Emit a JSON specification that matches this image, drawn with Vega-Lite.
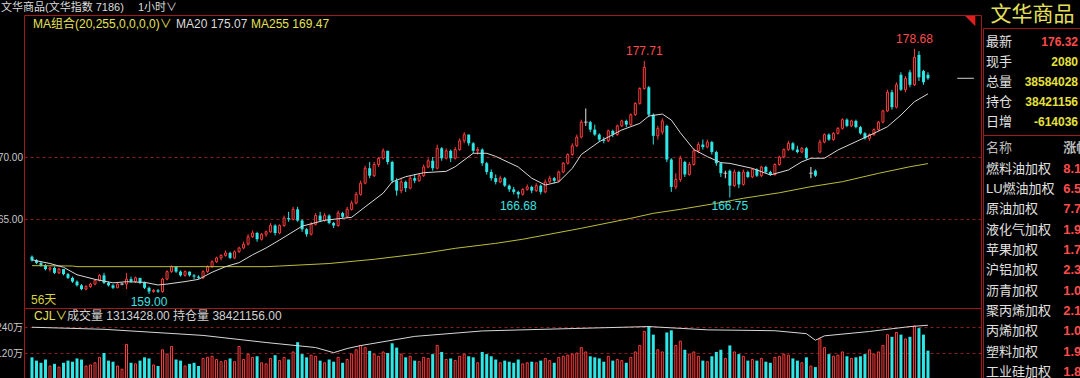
{
  "$schema": "https://vega.github.io/schema/vega-lite/v6.json",
  "background": "#000000",
  "padding": {"left": -9, "top": 0, "right": 0, "bottom": 0},
  "autosize": {"type": "pad"},
  "spacing": 0,
  "config": {
    "font": "Liberation Sans, Noto Sans CJK SC, sans-serif",
    "view": {"stroke": "#a01818", "strokeWidth": 1},
    "axis": {"domain": false, "ticks": false, "tickSize": 0, "labelPadding": 1.5, "labelFontSize": 10, "labelColor": "#c8c8c8", "gridColor": "#8a1c1c", "gridDash": [3, 3], "gridWidth": 1}
  },
  "datasets": {
    "k": [
      {"i":0,"o":162.0,"h":162.1,"l":161.6,"c":161.7,"v":100},
      {"i":1,"o":161.7,"h":161.8,"l":161.4,"c":161.5,"v":85},
      {"i":2,"o":161.5,"h":161.6,"l":161.2,"c":161.3,"v":75},
      {"i":3,"o":161.3,"h":161.4,"l":160.9,"c":161.0,"v":90},
      {"i":4,"o":161.0,"h":161.2,"l":160.8,"c":161.1,"v":60},
      {"i":5,"o":161.1,"h":161.2,"l":160.6,"c":160.7,"v":70},
      {"i":6,"o":160.7,"h":161.1,"l":160.6,"c":161.0,"v":55},
      {"i":7,"o":161.0,"h":161.0,"l":160.5,"c":160.6,"v":75},
      {"i":8,"o":160.6,"h":160.7,"l":160.2,"c":160.3,"v":85},
      {"i":9,"o":160.3,"h":160.4,"l":159.9,"c":160.0,"v":80},
      {"i":10,"o":160.0,"h":160.1,"l":159.6,"c":159.7,"v":95},
      {"i":11,"o":159.7,"h":159.8,"l":159.3,"c":159.4,"v":90},
      {"i":12,"o":159.4,"h":159.7,"l":159.3,"c":159.6,"v":60},
      {"i":13,"o":159.6,"h":159.9,"l":159.5,"c":159.8,"v":65},
      {"i":14,"o":159.8,"h":160.2,"l":159.7,"c":160.1,"v":75},
      {"i":15,"o":160.1,"h":160.6,"l":160.0,"c":160.5,"v":100},
      {"i":16,"o":160.5,"h":160.7,"l":159.8,"c":159.9,"v":120},
      {"i":17,"o":159.9,"h":160.0,"l":159.6,"c":159.7,"v":85},
      {"i":18,"o":159.7,"h":159.8,"l":159.4,"c":159.5,"v":80},
      {"i":19,"o":159.5,"h":159.9,"l":159.5,"c":159.8,"v":60},
      {"i":20,"o":159.8,"h":159.9,"l":159.7,"c":159.8,"v":45},
      {"i":21,"o":159.8,"h":160.7,"l":159.4,"c":160.2,"v":160},
      {"i":22,"o":160.2,"h":160.4,"l":159.9,"c":160.0,"v":75},
      {"i":23,"o":160.0,"h":160.4,"l":159.9,"c":160.3,"v":70},
      {"i":24,"o":160.3,"h":160.3,"l":159.8,"c":159.9,"v":85},
      {"i":25,"o":159.9,"h":160.0,"l":159.4,"c":159.5,"v":100},
      {"i":26,"o":159.5,"h":159.6,"l":159.0,"c":159.2,"v":95},
      {"i":27,"o":159.2,"h":159.4,"l":159.1,"c":159.3,"v":65},
      {"i":28,"o":159.3,"h":159.4,"l":159.1,"c":159.2,"v":60},
      {"i":29,"o":159.2,"h":160.3,"l":159.1,"c":160.2,"v":135},
      {"i":30,"o":160.2,"h":160.9,"l":160.1,"c":160.8,"v":115},
      {"i":31,"o":160.8,"h":161.3,"l":160.7,"c":161.2,"v":150},
      {"i":32,"o":161.2,"h":161.2,"l":160.7,"c":160.8,"v":90},
      {"i":33,"o":160.8,"h":160.9,"l":160.4,"c":160.5,"v":85},
      {"i":34,"o":160.5,"h":160.9,"l":160.4,"c":160.8,"v":60},
      {"i":35,"o":160.8,"h":160.8,"l":160.4,"c":160.5,"v":70},
      {"i":36,"o":160.5,"h":160.6,"l":160.2,"c":160.4,"v":75},
      {"i":37,"o":160.4,"h":160.5,"l":160.2,"c":160.3,"v":60},
      {"i":38,"o":160.3,"h":160.9,"l":160.2,"c":160.8,"v":95},
      {"i":39,"o":160.8,"h":161.3,"l":160.7,"c":161.2,"v":100},
      {"i":40,"o":161.2,"h":161.7,"l":161.1,"c":161.6,"v":105},
      {"i":41,"o":161.6,"h":162.0,"l":161.5,"c":161.9,"v":90},
      {"i":42,"o":161.9,"h":162.2,"l":161.7,"c":162.1,"v":80},
      {"i":43,"o":162.1,"h":162.5,"l":162.0,"c":162.3,"v":85},
      {"i":44,"o":162.3,"h":162.4,"l":161.8,"c":161.9,"v":95},
      {"i":45,"o":161.9,"h":162.5,"l":161.8,"c":162.4,"v":80},
      {"i":46,"o":162.4,"h":162.8,"l":162.3,"c":162.7,"v":150},
      {"i":47,"o":162.7,"h":163.2,"l":162.6,"c":163.0,"v":90},
      {"i":48,"o":163.0,"h":163.8,"l":162.9,"c":163.6,"v":115},
      {"i":49,"o":163.6,"h":164.1,"l":163.5,"c":163.9,"v":100},
      {"i":50,"o":163.9,"h":164.0,"l":163.2,"c":163.4,"v":105},
      {"i":51,"o":163.4,"h":163.9,"l":163.3,"c":163.8,"v":75},
      {"i":52,"o":163.8,"h":164.1,"l":163.6,"c":164.0,"v":70},
      {"i":53,"o":164.0,"h":164.7,"l":163.9,"c":164.5,"v":95},
      {"i":54,"o":164.5,"h":164.6,"l":163.7,"c":163.9,"v":110},
      {"i":55,"o":163.9,"h":164.6,"l":163.8,"c":164.5,"v":85},
      {"i":56,"o":164.5,"h":165.3,"l":164.4,"c":165.1,"v":100},
      {"i":57,"o":165.1,"h":165.6,"l":164.8,"c":165.0,"v":90},
      {"i":58,"o":165.0,"h":166.0,"l":164.9,"c":165.8,"v":125},
      {"i":59,"o":165.8,"h":166.0,"l":164.8,"c":164.9,"v":170},
      {"i":60,"o":164.9,"h":165.0,"l":164.0,"c":164.2,"v":115},
      {"i":61,"o":164.2,"h":164.3,"l":163.6,"c":163.8,"v":100},
      {"i":62,"o":163.8,"h":164.8,"l":163.7,"c":164.6,"v":110},
      {"i":63,"o":164.6,"h":165.5,"l":164.5,"c":165.3,"v":105},
      {"i":64,"o":165.3,"h":165.6,"l":164.8,"c":164.9,"v":85},
      {"i":65,"o":164.9,"h":165.5,"l":164.8,"c":165.3,"v":75},
      {"i":66,"o":165.3,"h":165.4,"l":164.6,"c":164.7,"v":90},
      {"i":67,"o":164.7,"h":164.8,"l":164.3,"c":164.5,"v":80},
      {"i":68,"o":164.5,"h":165.7,"l":164.4,"c":165.5,"v":100},
      {"i":69,"o":165.5,"h":165.6,"l":165.1,"c":165.2,"v":75},
      {"i":70,"o":165.2,"h":166.0,"l":165.1,"c":165.8,"v":90},
      {"i":71,"o":165.8,"h":166.5,"l":165.7,"c":166.3,"v":115},
      {"i":72,"o":166.3,"h":167.2,"l":166.2,"c":167.0,"v":135},
      {"i":73,"o":167.0,"h":168.1,"l":166.9,"c":167.9,"v":155},
      {"i":74,"o":167.9,"h":169.3,"l":167.8,"c":169.1,"v":145},
      {"i":75,"o":169.1,"h":169.6,"l":168.3,"c":168.5,"v":130},
      {"i":76,"o":168.5,"h":169.6,"l":168.4,"c":169.4,"v":115},
      {"i":77,"o":169.4,"h":170.0,"l":169.2,"c":169.9,"v":105},
      {"i":78,"o":169.9,"h":170.7,"l":169.8,"c":170.5,"v":125},
      {"i":79,"o":170.5,"h":170.5,"l":169.4,"c":169.6,"v":120},
      {"i":80,"o":169.6,"h":169.7,"l":167.9,"c":168.1,"v":165},
      {"i":81,"o":168.1,"h":168.3,"l":166.9,"c":167.3,"v":145},
      {"i":82,"o":167.3,"h":168.3,"l":167.1,"c":168.0,"v":115},
      {"i":83,"o":168.0,"h":168.1,"l":167.2,"c":167.5,"v":100},
      {"i":84,"o":167.5,"h":168.5,"l":167.4,"c":168.3,"v":105},
      {"i":85,"o":168.3,"h":168.6,"l":167.9,"c":168.1,"v":85},
      {"i":86,"o":168.1,"h":168.7,"l":168.0,"c":168.5,"v":80},
      {"i":87,"o":168.5,"h":169.4,"l":168.4,"c":169.2,"v":100},
      {"i":88,"o":169.2,"h":169.9,"l":169.1,"c":169.7,"v":95},
      {"i":89,"o":169.7,"h":170.0,"l":168.9,"c":169.1,"v":115},
      {"i":90,"o":169.1,"h":171.0,"l":169.0,"c":170.7,"v":155},
      {"i":91,"o":170.7,"h":170.8,"l":169.7,"c":169.9,"v":125},
      {"i":92,"o":169.9,"h":170.7,"l":169.8,"c":170.5,"v":90},
      {"i":93,"o":170.5,"h":170.6,"l":169.6,"c":169.9,"v":95},
      {"i":94,"o":169.9,"h":170.8,"l":169.8,"c":170.6,"v":85},
      {"i":95,"o":170.6,"h":171.5,"l":170.5,"c":171.3,"v":105},
      {"i":96,"o":171.3,"h":172.0,"l":171.1,"c":171.8,"v":115},
      {"i":97,"o":171.8,"h":171.8,"l":170.9,"c":171.1,"v":105},
      {"i":98,"o":171.1,"h":171.2,"l":170.3,"c":170.5,"v":100},
      {"i":99,"o":170.5,"h":170.8,"l":170.2,"c":170.6,"v":75},
      {"i":100,"o":170.6,"h":170.7,"l":169.3,"c":169.5,"v":125},
      {"i":101,"o":169.5,"h":169.6,"l":168.6,"c":168.8,"v":115},
      {"i":102,"o":168.8,"h":169.0,"l":168.1,"c":168.3,"v":105},
      {"i":103,"o":168.3,"h":168.6,"l":167.8,"c":168.0,"v":90},
      {"i":104,"o":168.0,"h":168.5,"l":167.9,"c":168.3,"v":75},
      {"i":105,"o":168.3,"h":168.4,"l":167.6,"c":167.7,"v":85},
      {"i":106,"o":167.7,"h":167.8,"l":167.2,"c":167.4,"v":80},
      {"i":107,"o":167.4,"h":167.6,"l":167.0,"c":167.2,"v":75},
      {"i":108,"o":167.2,"h":167.3,"l":166.68,"c":167.0,"v":90},
      {"i":109,"o":167.0,"h":167.5,"l":166.9,"c":167.4,"v":70},
      {"i":110,"o":167.4,"h":167.8,"l":167.3,"c":167.6,"v":75},
      {"i":111,"o":167.6,"h":167.7,"l":167.1,"c":167.3,"v":80},
      {"i":112,"o":167.3,"h":167.9,"l":167.2,"c":167.7,"v":75},
      {"i":113,"o":167.7,"h":167.8,"l":167.0,"c":167.2,"v":85},
      {"i":114,"o":167.2,"h":168.2,"l":167.1,"c":168.0,"v":95},
      {"i":115,"o":168.0,"h":168.5,"l":167.9,"c":168.3,"v":85},
      {"i":116,"o":168.3,"h":168.4,"l":167.9,"c":168.1,"v":75},
      {"i":117,"o":168.1,"h":168.9,"l":168.0,"c":168.8,"v":100},
      {"i":118,"o":168.8,"h":169.6,"l":168.7,"c":169.5,"v":105},
      {"i":119,"o":169.5,"h":170.3,"l":169.4,"c":170.2,"v":110},
      {"i":120,"o":170.2,"h":171.1,"l":170.1,"c":170.9,"v":115},
      {"i":121,"o":170.9,"h":171.8,"l":170.8,"c":171.6,"v":120},
      {"i":122,"o":171.6,"h":173.0,"l":171.5,"c":172.8,"v":145},
      {"i":123,"o":172.8,"h":173.9,"l":172.5,"c":172.8,"v":125},
      {"i":124,"o":172.8,"h":172.9,"l":172.0,"c":172.2,"v":105},
      {"i":125,"o":172.2,"h":172.6,"l":171.7,"c":171.8,"v":100},
      {"i":126,"o":171.8,"h":171.9,"l":171.2,"c":171.4,"v":95},
      {"i":127,"o":171.4,"h":171.6,"l":171.1,"c":171.3,"v":80},
      {"i":128,"o":171.3,"h":172.2,"l":171.2,"c":172.1,"v":105},
      {"i":129,"o":172.1,"h":172.2,"l":171.6,"c":171.8,"v":85},
      {"i":130,"o":171.8,"h":172.6,"l":171.7,"c":172.5,"v":90},
      {"i":131,"o":172.5,"h":173.0,"l":172.4,"c":172.9,"v":85},
      {"i":132,"o":172.9,"h":173.0,"l":172.4,"c":172.6,"v":75},
      {"i":133,"o":172.6,"h":173.5,"l":172.5,"c":173.4,"v":100},
      {"i":134,"o":173.4,"h":174.4,"l":173.3,"c":174.3,"v":125},
      {"i":135,"o":174.3,"h":175.6,"l":174.2,"c":175.5,"v":155},
      {"i":136,"o":175.5,"h":177.71,"l":175.4,"c":177.2,"v":220},
      {"i":137,"o":175.6,"h":175.7,"l":173.2,"c":173.4,"v":245},
      {"i":138,"o":173.4,"h":173.5,"l":171.0,"c":171.7,"v":205},
      {"i":139,"o":171.7,"h":172.5,"l":171.4,"c":172.3,"v":135},
      {"i":140,"o":172.0,"h":173.1,"l":171.8,"c":172.9,"v":125},
      {"i":141,"o":172.5,"h":172.6,"l":169.6,"c":169.8,"v":215},
      {"i":142,"o":169.8,"h":169.9,"l":167.2,"c":167.6,"v":225},
      {"i":143,"o":167.6,"h":168.7,"l":167.4,"c":168.2,"v":155},
      {"i":144,"o":168.2,"h":170.1,"l":168.0,"c":169.9,"v":175},
      {"i":145,"o":169.6,"h":169.7,"l":168.4,"c":168.6,"v":135},
      {"i":146,"o":168.6,"h":169.6,"l":168.5,"c":169.4,"v":115},
      {"i":147,"o":169.4,"h":170.7,"l":169.3,"c":170.5,"v":125},
      {"i":148,"o":170.5,"h":171.2,"l":170.3,"c":171.0,"v":105},
      {"i":149,"o":171.0,"h":171.4,"l":170.6,"c":170.8,"v":85},
      {"i":150,"o":170.8,"h":171.4,"l":170.7,"c":171.2,"v":80},
      {"i":151,"o":171.2,"h":171.3,"l":170.2,"c":170.4,"v":105},
      {"i":152,"o":170.4,"h":170.5,"l":169.3,"c":169.5,"v":125},
      {"i":153,"o":169.5,"h":169.6,"l":168.4,"c":168.7,"v":135},
      {"i":154,"o":168.7,"h":168.9,"l":168.3,"c":168.7,"v":95},
      {"i":155,"o":168.9,"h":169.0,"l":166.75,"c":167.7,"v":155},
      {"i":156,"o":167.7,"h":169.0,"l":167.6,"c":168.8,"v":125},
      {"i":157,"o":168.8,"h":168.9,"l":167.5,"c":167.8,"v":115},
      {"i":158,"o":167.8,"h":169.0,"l":167.7,"c":168.8,"v":105},
      {"i":159,"o":168.8,"h":168.9,"l":168.3,"c":168.4,"v":85},
      {"i":160,"o":168.4,"h":169.1,"l":168.3,"c":169.0,"v":90},
      {"i":161,"o":169.0,"h":169.1,"l":168.4,"c":168.5,"v":85},
      {"i":162,"o":168.5,"h":169.3,"l":168.4,"c":169.2,"v":95},
      {"i":163,"o":169.2,"h":169.3,"l":168.7,"c":168.8,"v":80},
      {"i":164,"o":168.8,"h":168.9,"l":168.5,"c":168.6,"v":75},
      {"i":165,"o":168.6,"h":169.5,"l":168.5,"c":169.4,"v":100},
      {"i":166,"o":169.4,"h":170.1,"l":169.3,"c":170.0,"v":105},
      {"i":167,"o":170.0,"h":170.7,"l":169.9,"c":170.6,"v":115},
      {"i":168,"o":170.6,"h":171.3,"l":170.5,"c":171.1,"v":110},
      {"i":169,"o":171.1,"h":171.2,"l":170.5,"c":170.6,"v":95},
      {"i":170,"o":170.6,"h":170.9,"l":170.3,"c":170.4,"v":85},
      {"i":171,"o":170.4,"h":170.8,"l":170.3,"c":170.7,"v":75},
      {"i":172,"o":170.7,"h":170.8,"l":169.8,"c":169.9,"v":100},
      {"i":173,"o":168.7,"h":169.2,"l":168.3,"c":168.7,"v":60},
      {"i":174,"o":168.9,"h":169.0,"l":168.4,"c":168.5,"v":55},
      {"i":175,"o":170.4,"h":171.4,"l":170.3,"c":171.2,"v":185},
      {"i":176,"o":171.2,"h":171.9,"l":171.1,"c":171.8,"v":145},
      {"i":177,"o":171.8,"h":171.9,"l":171.3,"c":171.4,"v":115},
      {"i":178,"o":171.4,"h":172.0,"l":171.3,"c":171.9,"v":105},
      {"i":179,"o":171.9,"h":172.4,"l":171.8,"c":172.3,"v":110},
      {"i":180,"o":172.3,"h":173.1,"l":172.2,"c":173.0,"v":125},
      {"i":181,"o":173.0,"h":173.1,"l":172.4,"c":172.5,"v":105},
      {"i":182,"o":172.5,"h":173.0,"l":172.4,"c":172.9,"v":95},
      {"i":183,"o":172.9,"h":173.0,"l":172.3,"c":172.4,"v":100},
      {"i":184,"o":172.4,"h":172.5,"l":171.8,"c":171.9,"v":105},
      {"i":185,"o":171.9,"h":172.0,"l":171.4,"c":171.5,"v":115},
      {"i":186,"o":171.5,"h":171.9,"l":171.3,"c":171.8,"v":135},
      {"i":187,"o":171.8,"h":172.3,"l":171.7,"c":172.2,"v":115},
      {"i":188,"o":172.2,"h":172.9,"l":172.1,"c":172.8,"v":125},
      {"i":189,"o":172.8,"h":173.8,"l":172.7,"c":173.7,"v":155},
      {"i":190,"o":173.7,"h":175.4,"l":173.6,"c":175.2,"v":205},
      {"i":191,"o":175.2,"h":175.4,"l":173.8,"c":174.0,"v":195},
      {"i":192,"o":174.0,"h":176.0,"l":173.9,"c":175.8,"v":215},
      {"i":193,"o":176.6,"h":176.8,"l":175.3,"c":175.4,"v":205},
      {"i":194,"o":175.4,"h":176.5,"l":175.2,"c":176.3,"v":185},
      {"i":195,"o":176.8,"h":177.0,"l":175.6,"c":175.8,"v":195},
      {"i":196,"o":175.8,"h":178.68,"l":175.7,"c":178.0,"v":245},
      {"i":197,"o":178.2,"h":178.5,"l":176.1,"c":176.4,"v":235},
      {"i":198,"o":176.9,"h":177.0,"l":175.8,"c":176.0,"v":205},
      {"i":199,"o":176.6,"h":176.8,"l":176.2,"c":176.32,"v":131}
    ],
    "ma20": [
      {"i":0,"v":161.75},{"i":4,"v":161.45},{"i":7,"v":161.15},{"i":10,"v":160.55},{"i":14,"v":160.18},{"i":18,"v":159.9},{"i":21,"v":159.99},{"i":25,"v":159.94},{"i":28,"v":159.73},{"i":30,"v":159.8},{"i":34,"v":160.0},{"i":37,"v":160.18},{"i":40,"v":160.75},{"i":43,"v":161.2},{"i":46,"v":161.52},{"i":49,"v":162.15},{"i":52,"v":162.7},{"i":55,"v":163.34},{"i":60,"v":164.45},{"i":65,"v":164.92},{"i":71,"v":165.16},{"i":74,"v":166.0},{"i":78,"v":167.1},{"i":80,"v":168.0},{"i":83,"v":168.42},{"i":87,"v":168.74},{"i":92,"v":168.85},{"i":94,"v":169.22},{"i":98,"v":170.3},{"i":101,"v":170.3},{"i":103,"v":170.05},{"i":108,"v":169.2},{"i":111,"v":168.3},{"i":114,"v":167.75},{"i":117,"v":168.0},{"i":120,"v":169.09},{"i":122,"v":170.2},{"i":126,"v":171.23},{"i":131,"v":172.17},{"i":135,"v":172.7},{"i":137,"v":173.29},{"i":140,"v":173.45},{"i":142,"v":172.97},{"i":144,"v":171.95},{"i":147,"v":170.6},{"i":150,"v":170.03},{"i":153,"v":169.55},{"i":155,"v":169.49},{"i":160,"v":169.09},{"i":164,"v":168.56},{"i":168,"v":168.96},{"i":171,"v":169.62},{"i":173,"v":169.9},{"i":176,"v":169.9},{"i":179,"v":170.56},{"i":183,"v":171.23},{"i":187,"v":171.9},{"i":190,"v":172.43},{"i":193,"v":173.37},{"i":196,"v":174.44},{"i":199,"v":175.07}
    ],
    "ma255": [
      {"i":0,"v":161.28},{"i":9,"v":161.25},{"i":10,"v":161.2},{"i":52,"v":161.2},{"i":55,"v":161.25},{"i":66,"v":161.45},{"i":76,"v":161.79},{"i":87,"v":162.27},{"i":94,"v":162.67},{"i":103,"v":163.07},{"i":109,"v":163.4},{"i":122,"v":164.28},{"i":133,"v":165.08},{"i":138,"v":165.48},{"i":144,"v":165.8},{"i":152,"v":166.28},{"i":158,"v":166.69},{"i":166,"v":167.13},{"i":173,"v":167.62},{"i":180,"v":168.02},{"i":188,"v":168.69},{"i":195,"v":169.22},{"i":199,"v":169.47}
    ],
    "oi": [
      {"i":0,"v":3824},{"i":16,"v":3805},{"i":38,"v":3749},{"i":52,"v":3684},{"i":63,"v":3638},{"i":67,"v":3591},{"i":70,"v":3629},{"i":73,"v":3656},{"i":85,"v":3740},{"i":100,"v":3790},{"i":120,"v":3812},{"i":137,"v":3830},{"i":150,"v":3800},{"i":165,"v":3792},{"i":172,"v":3765},{"i":174,"v":3705},{"i":176,"v":3745},{"i":186,"v":3785},{"i":195,"v":3830},{"i":199,"v":3842}
    ],
    "ext": [
      {"i":136,"p":177.71,"kind":"high"},
      {"i":196,"p":178.68,"kind":"high"},
      {"i":26,"p":159.00,"kind":"low"},
      {"i":108,"p":166.68,"kind":"low"},
      {"i":155,"p":166.75,"kind":"low"}
    ],
    "quote": [
      {"k":"最新","v":"176.32"},
      {"k":"现手","v":"2080"},
      {"k":"总量","v":"38584028"},
      {"k":"持仓","v":"38421156"},
      {"k":"日增","v":"-614036"}
    ],
    "list": [
      {"name":"名称","chg":"涨幅"},
      {"name":"燃料油加权","chg":"8.12"},
      {"name":"LU燃油加权","chg":"6.57"},
      {"name":"原油加权","chg":"7.73"},
      {"name":"液化气加权","chg":"1.99"},
      {"name":"苹果加权","chg":"1.70"},
      {"name":"沪铝加权","chg":"2.31"},
      {"name":"沥青加权","chg":"1.00"},
      {"name":"聚丙烯加权","chg":"2.18"},
      {"name":"丙烯加权","chg":"1.04"},
      {"name":"塑料加权","chg":"1.90"},
      {"name":"工业硅加权","chg":"1.88"}
    ]
  },
  "hconcat": [
    {
      "spacing": 0,
      "bounds": "flush",
      "vconcat": [
        {
          "width": 957,
          "height": 15,
          "view": {"stroke": null},
          "data": {"values": [{"t": "文华商品(文华指数 7186)\u3000 1小时∨"}]},
          "mark": {"type": "text", "align": "left", "baseline": "middle", "dx": -23, "fontSize": 11, "color": "#dcdcdc"},
          "encoding": {"x": {"datum": 0, "type": "quantitative", "scale": {"domain": [0, 1]}, "axis": null}, "text": {"field": "t"}}
        },
        {
          "width": 957,
          "height": 293,
          "layer": [
            {
              "data": {"name": "k"},
              "mark": {"type": "rule", "strokeWidth": 1},
              "encoding": {
                "x": {"field": "i", "type": "quantitative", "scale": {"domain": [-0.66, 209.67], "nice": false, "zero": false}, "axis": null},
                "y": {"field": "l", "type": "quantitative", "scale": {"domain": [157.88, 181.4], "nice": false, "zero": false}, "axis": {"values": [165, 170], "format": ".2f", "grid": true, "title": null}},
                "y2": {"field": "h"},
                "color": {"condition": [{"test": "datum.c == datum.o", "value": "#e6e6e6"}, {"test": "datum.c > datum.o", "value": "#ff3c3c"}], "value": "#2ee6e6"}
              }
            },
            {
              "data": {"name": "k"},
              "transform": [{"filter": "datum.c < datum.o"}],
              "mark": {"type": "bar", "width": 3, "color": "#2ee6e6"},
              "encoding": {"x": {"field": "i", "type": "quantitative", "axis": null}, "y": {"field": "o", "type": "quantitative", "axis": {"values": [165, 170], "format": ".2f", "grid": true, "title": null}}, "y2": {"field": "c"}}
            },
            {
              "data": {"name": "k"},
              "transform": [{"filter": "datum.c > datum.o"}],
              "mark": {"type": "bar", "width": 2, "fill": "#000000", "stroke": "#ff3c3c", "strokeWidth": 1},
              "encoding": {"x": {"field": "i", "type": "quantitative", "axis": null}, "y": {"field": "o", "type": "quantitative", "axis": {"values": [165, 170], "format": ".2f", "grid": true, "title": null}}, "y2": {"field": "c"}}
            },
            {
              "data": {"name": "k"},
              "transform": [{"filter": "datum.c == datum.o"}],
              "mark": {"type": "tick", "orient": "horizontal", "size": 4, "thickness": 1, "color": "#e6e6e6"},
              "encoding": {"x": {"field": "i", "type": "quantitative", "axis": null}, "y": {"field": "o", "type": "quantitative", "axis": {"values": [165, 170], "format": ".2f", "grid": true, "title": null}}}
            },
            {
              "data": {"name": "ma255"},
              "mark": {"type": "line", "color": "#bdbd3a", "strokeWidth": 1},
              "encoding": {"x": {"field": "i", "type": "quantitative", "axis": null}, "y": {"field": "v", "type": "quantitative", "axis": {"values": [165, 170], "format": ".2f", "grid": true, "title": null}}}
            },
            {
              "data": {"name": "ma20"},
              "mark": {"type": "line", "color": "#d8d8d8", "strokeWidth": 1},
              "encoding": {"x": {"field": "i", "type": "quantitative", "axis": null}, "y": {"field": "v", "type": "quantitative", "axis": {"values": [165, 170], "format": ".2f", "grid": true, "title": null}}}
            },
            {
              "data": {"name": "ext"},
              "transform": [{"filter": "datum.kind == 'high'"}],
              "mark": {"type": "text", "baseline": "bottom", "dy": -3, "fontSize": 12, "color": "#ff4a4a"},
              "encoding": {"x": {"field": "i", "type": "quantitative", "axis": null}, "y": {"field": "p", "type": "quantitative", "axis": {"values": [165, 170], "format": ".2f", "grid": true, "title": null}}, "text": {"field": "p", "type": "quantitative", "format": ".2f"}}
            },
            {
              "data": {"name": "ext"},
              "transform": [{"filter": "datum.kind == 'low'"}],
              "mark": {"type": "text", "baseline": "top", "dy": 3, "fontSize": 12, "color": "#3ee0e0"},
              "encoding": {"x": {"field": "i", "type": "quantitative", "axis": null}, "y": {"field": "p", "type": "quantitative", "axis": {"values": [165, 170], "format": ".2f", "grid": true, "title": null}}, "text": {"field": "p", "type": "quantitative", "format": ".2f"}}
            },
            {
              "data": {"values": [{"t": "MA组合(20,255,0,0,0,0)∨"}]},
              "mark": {"type": "text", "align": "left", "baseline": "middle", "dx": 4, "dy": 9, "fontSize": 12, "color": "#e6e05a"},
              "encoding": {"x": {"datum": -0.66, "type": "quantitative", "axis": null}, "y": {"datum": 181.4, "type": "quantitative", "axis": {"values": [165, 170], "format": ".2f", "grid": true, "title": null}}, "text": {"field": "t"}}
            },
            {
              "data": {"values": [{"t": "MA20 175.07"}]},
              "mark": {"type": "text", "align": "left", "baseline": "middle", "dx": 147, "dy": 9, "fontSize": 12, "color": "#dcdcdc"},
              "encoding": {"x": {"datum": -0.66, "type": "quantitative", "axis": null}, "y": {"datum": 181.4, "type": "quantitative", "axis": {"values": [165, 170], "format": ".2f", "grid": true, "title": null}}, "text": {"field": "t"}}
            },
            {
              "data": {"values": [{"t": "MA255 169.47"}]},
              "mark": {"type": "text", "align": "left", "baseline": "middle", "dx": 222, "dy": 9, "fontSize": 12, "color": "#e6e05a"},
              "encoding": {"x": {"datum": -0.66, "type": "quantitative", "axis": null}, "y": {"datum": 181.4, "type": "quantitative", "axis": {"values": [165, 170], "format": ".2f", "grid": true, "title": null}}, "text": {"field": "t"}}
            },
            {
              "data": {"values": [{"t": "56天"}]},
              "mark": {"type": "text", "align": "left", "baseline": "middle", "dx": 2, "fontSize": 12, "color": "#d8d040"},
              "encoding": {"x": {"datum": -0.66, "type": "quantitative", "axis": null}, "y": {"datum": 158.52, "type": "quantitative", "axis": {"values": [165, 170], "format": ".2f", "grid": true, "title": null}}, "text": {"field": "t"}}
            },
            {
              "data": {"values": [{"last": 176.32}]},
              "mark": {"type": "rule", "color": "#d0d0d0", "strokeWidth": 1},
              "encoding": {"x": {"datum": 205.5, "type": "quantitative", "axis": null}, "x2": {"datum": 209.2}, "y": {"field": "last", "type": "quantitative", "axis": {"values": [165, 170], "format": ".2f", "grid": true, "title": null}}}
            },
            {
              "data": {"values": [{"t": "◥"}]},
              "mark": {"type": "text", "align": "right", "baseline": "top", "dy": 2, "dx": -1, "fontSize": 10, "color": "#e02020"},
              "encoding": {"x": {"datum": 209.67, "type": "quantitative", "axis": null}, "y": {"datum": 181.4, "type": "quantitative", "axis": {"values": [165, 170], "format": ".2f", "grid": true, "title": null}}, "text": {"field": "t"}}
            }
          ]
        },
        {
          "width": 957,
          "height": 71,
          "layer": [
            {
              "layer": [
                {
                  "data": {"name": "k"},
                  "transform": [{"filter": "datum.c < datum.o"}],
                  "mark": {"type": "bar", "width": 3, "color": "#2ee6e6"},
                  "encoding": {"x": {"field": "i", "type": "quantitative", "scale": {"domain": [-0.66, 209.67], "nice": false, "zero": false}, "axis": null}, "y": {"field": "v", "type": "quantitative", "scale": {"domain": [0, 328], "nice": false}, "axis": {"values": [120, 240], "labelExpr": "datum.value + '万'", "grid": true, "title": null}}}
                },
                {
                  "data": {"name": "k"},
                  "transform": [{"filter": "datum.c >= datum.o"}],
                  "mark": {"type": "bar", "width": 2, "fill": "#000000", "stroke": "#ff3c3c", "strokeWidth": 1},
                  "encoding": {"x": {"field": "i", "type": "quantitative", "axis": null}, "y": {"field": "v", "type": "quantitative", "axis": {"values": [120, 240], "labelExpr": "datum.value + '万'", "grid": true, "title": null}}}
                },
                {
                  "data": {"values": [{"t": "CJL∨"}]},
                  "mark": {"type": "text", "align": "left", "baseline": "middle", "dx": 5, "dy": 8, "fontSize": 12, "color": "#e6e05a"},
                  "encoding": {"x": {"datum": -0.66, "type": "quantitative", "axis": null}, "y": {"datum": 328, "type": "quantitative", "axis": {"values": [120, 240], "labelExpr": "datum.value + '万'", "grid": true, "title": null}}, "text": {"field": "t"}}
                },
                {
                  "data": {"values": [{"t": "成交量 1313428.00  持仓量 38421156.00"}]},
                  "mark": {"type": "text", "align": "left", "baseline": "middle", "dx": 38, "dy": 8, "fontSize": 12, "color": "#d2d2d2"},
                  "encoding": {"x": {"datum": -0.66, "type": "quantitative", "axis": null}, "y": {"datum": 328, "type": "quantitative", "axis": {"values": [120, 240], "labelExpr": "datum.value + '万'", "grid": true, "title": null}}, "text": {"field": "t"}}
                }
              ]
            },
            {
              "data": {"name": "oi"},
              "mark": {"type": "line", "color": "#d8d8d8", "strokeWidth": 1},
              "encoding": {"x": {"field": "i", "type": "quantitative", "axis": null}, "y": {"field": "v", "type": "quantitative", "scale": {"domain": [3350, 4000], "nice": false, "zero": false}, "axis": null}}
            }
          ],
          "resolve": {"scale": {"y": "independent"}}
        }
      ]
    },
    {
      "spacing": 0,
      "bounds": "flush",
      "vconcat": [
        {
          "width": 99,
          "height": 28,
          "view": {"stroke": null},
          "data": {"values": [{"t": "文华商品"}]},
          "mark": {"type": "text", "align": "center", "baseline": "middle", "dy": 1, "fontSize": 21, "color": "#e6e05a"},
          "encoding": {"text": {"field": "t"}}
        },
        {
          "width": 99,
          "height": 107,
          "data": {"name": "quote"},
          "encoding": {"y": {"field": "k", "type": "nominal", "sort": null, "scale": {"type": "point", "padding": 0.675, "domain": ["最新", "现手", "总量", "持仓", "日增"]}, "axis": null}},
          "layer": [
            {
              "mark": {"type": "text", "align": "left", "baseline": "middle", "fontSize": 13, "color": "#e0e0e0"},
              "encoding": {"x": {"datum": 0.03, "type": "quantitative", "scale": {"domain": [0, 1]}, "axis": null}, "text": {"field": "k"}}
            },
            {
              "mark": {"type": "text", "align": "right", "baseline": "middle", "fontSize": 12, "fontWeight": "bold"},
              "encoding": {"x": {"datum": 0.96, "type": "quantitative", "scale": {"domain": [0, 1]}, "axis": null}, "text": {"field": "v"}, "color": {"condition": {"test": "datum.k == '最新'", "value": "#ff4a4a"}, "value": "#e6e03c"}}
            }
          ]
        },
        {
          "width": 99,
          "height": 244,
          "data": {"name": "list"},
          "encoding": {"y": {"field": "name", "type": "nominal", "sort": null, "scale": {"type": "point", "padding": 0.5}, "axis": null}},
          "layer": [
            {
              "mark": {"type": "text", "align": "left", "baseline": "middle", "dy": 3, "fontSize": 13},
              "encoding": {"x": {"datum": 0.03, "type": "quantitative", "scale": {"domain": [0, 1]}, "axis": null}, "text": {"field": "name"}, "color": {"condition": {"test": "datum.name == '名称'", "value": "#bcbcbc"}, "value": "#e0e0e0"}}
            },
            {
              "mark": {"type": "text", "align": "left", "baseline": "middle", "dy": 3, "fontSize": 13, "fontWeight": "bold", "clip": true},
              "encoding": {"x": {"datum": 0.81, "type": "quantitative", "scale": {"domain": [0, 1]}, "axis": null}, "text": {"field": "chg"}, "color": {"condition": {"test": "datum.name == '名称'", "value": "#bcbcbc"}, "value": "#ff4a4a"}}
            }
          ]
        }
      ]
    }
  ]
}
